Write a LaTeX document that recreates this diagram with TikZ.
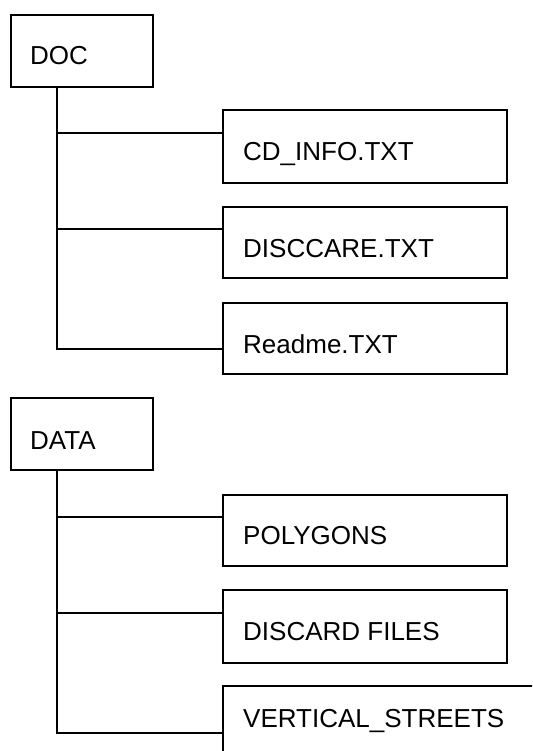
\documentclass[tikz,border=0pt]{standalone}
\usepackage{fontspec}
\setmainfont{Liberation Sans}
\usetikzlibrary{calc}
\begin{document}
\begin{tikzpicture}[x=1pt,y=-1pt,
  box/.style={draw=black, line width=1.6pt, rectangle, inner sep=0pt, anchor=north west},
  lbl/.style={anchor=base west, inner sep=0pt, font=\fontsize{26}{31}\selectfont},
  conn/.style={draw=black, line width=1.6pt}]
\clip (0,0) rectangle (532,751);
\fill[white] (0,0) rectangle (532,751);
% DOC group
\node[box, minimum width=142, minimum height=72] (doc) at (10,14) {};
\node[lbl] (doct) at (30,65) {DOC};
\node[box, minimum width=284, minimum height=73] (cd) at (222,109) {};
\node[lbl] (cdt) at (243,161) {CD\_INFO.TXT};
\node[box, minimum width=284, minimum height=71] (dc) at (222,206) {};
\node[lbl] (dct) at (243,257) {DISCCARE.TXT};
\node[box, minimum width=284, minimum height=71] (rm) at (222,302) {};
\node[lbl] (rmt) at (243,353) {Readme.TXT};
\coordinate (t1) at ($(doc.south west)+(47,0)$);
\draw[conn] (t1) |- ($(rm.north west)+(0,47)$);
\draw[conn] (t1 |- {$(cd.north west)+(0,24)$}) -- ($(cd.north west)+(0,24)$);
\draw[conn] (t1 |- {$(dc.north west)+(0,23)$}) -- ($(dc.north west)+(0,23)$);
% DATA group
\node[box, minimum width=142, minimum height=72] (data) at (10,397) {};
\node[lbl] (datat) at (30,449) {DATA};
\node[box, minimum width=284, minimum height=71] (pg) at (222,494) {};
\node[lbl] (pgt) at (243,544) {POLYGONS};
\node[box, minimum width=284, minimum height=73] (df) at (222,589) {};
\node[lbl] (dft) at (243,640) {DISCARD FILES};
\node[box, minimum width=340, minimum height=90] (vs) at (222,685) {};
\node[lbl] (vst) at (243,727) {VERTICAL\_STREETS};
\coordinate (t2) at ($(data.south west)+(47,0)$);
\draw[conn] (t2) |- ($(vs.north west)+(0,48)$);
\draw[conn] (t2 |- {$(pg.north west)+(0,23)$}) -- ($(pg.north west)+(0,23)$);
\draw[conn] (t2 |- {$(df.north west)+(0,24)$}) -- ($(df.north west)+(0,24)$);
\end{tikzpicture}
\end{document}
